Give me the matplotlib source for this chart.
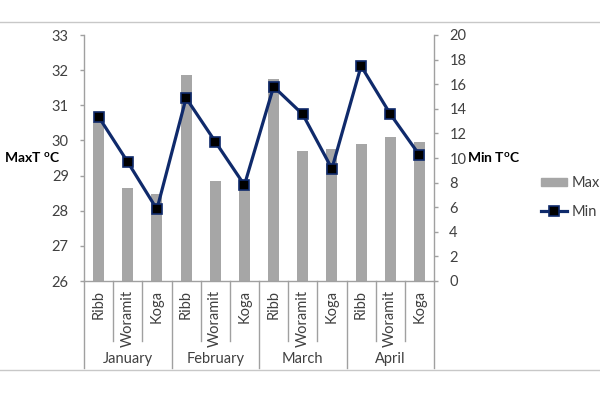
import matplotlib
matplotlib.use("Agg")
import matplotlib.pyplot as plt
from matplotlib.lines import Line2D

plt.rcParams['font.family'] = ['Lato', 'DejaVu Sans']
plt.rcParams['mathtext.fontset'] = 'custom'
plt.rcParams['mathtext.rm'] = 'Lato'
plt.rcParams['mathtext.bf'] = 'Lato:bold'

# data
months = ['January', 'February', 'March', 'April']
stations = ['Ribb', 'Woramit', 'Koga']
max_t = [30.52, 28.66, 28.47,
         31.85, 28.84, 28.60,
         31.74, 29.70, 29.77,
         29.89, 30.10, 29.95]
min_t = [13.36, 9.67, 5.83,
         14.88, 11.33, 7.80,
         15.80, 13.55, 9.13,
         17.48, 13.58, 10.24]

bar_col = '#A6A6A6'
line_col = '#0F2A6B'
axis_col = '#A0A0A0'
txt_col = '#404040'

n = len(max_t)
x = list(range(n))

fig = plt.figure(figsize=(6, 3.99), dpi=100)
ax = fig.add_axes([84 / 600, 1 - 281 / 399, 350 / 600, 246 / 399])
ax2 = ax.twinx()

ax.bar(x, max_t, width=0.38, color=bar_col, zorder=2)
ax.set_ylim(26, 33)
ax.set_xlim(-0.5, n - 0.5)
ax2.plot(x, min_t, color=line_col, lw=2.3, marker='s', ms=7,
         mfc='black', mec=line_col, mew=1.2, zorder=3)
ax2.set_ylim(0, 20)
ax2.set_yticks(range(0, 21, 2))

for a in (ax, ax2):
    a.set_xticks([])
    for s in a.spines.values():
        s.set_visible(False)
    a.tick_params(axis='y', colors=axis_col, labelcolor=txt_col,
                  labelsize=10.5, length=3, width=1, pad=8)
ax.spines['left'].set_visible(True)
ax.spines['bottom'].set_visible(True)
ax2.spines['right'].set_visible(True)
for s in (ax.spines['left'], ax.spines['bottom'], ax2.spines['right']):
    s.set_color(axis_col)
    s.set_linewidth(1)

# category axis: station labels, separators and month labels
tr = ax.get_xaxis_transform()
sub_y = -(341 - 281) / 246
mon_y = -(368 - 281) / 246
for i in range(n):
    ax.text(i, -(290 - 281) / 246, stations[i % 3], rotation=90,
            ha='center', va='top', fontsize=10.5, color=txt_col, transform=tr)
for i in range(n + 1):
    b = i - 0.5
    y0 = mon_y if i % 3 == 0 else sub_y
    ax.plot([b, b], [0, y0], color=axis_col, lw=1, transform=tr, clip_on=False)
for m, name in enumerate(months):
    ax.text(m * 3 + 1, -(359 - 281) / 246, name, ha='center', va='center',
            fontsize=10.5, color=txt_col, transform=tr)

# chart area borders
for yy in (21.7, 370):
    fig.add_artist(Line2D([0, 1], [1 - yy / 399, 1 - yy / 399],
                          color='#C8C8C8', lw=1))

fig.text(4 / 600, 1 - 158 / 399, r'MaxT $^{\mathbf{o}}$C', ha='left',
         va='center', fontsize=10, fontweight='bold', color='black')
fig.text(467 / 600, 1 - 158 / 399, r'Min T$^{\mathbf{o}}$C', ha='left',
         va='center', fontsize=10, fontweight='bold', color='black')

h_bar = plt.Rectangle((0, 0), 1, 1, color=bar_col)
h_line = Line2D([], [], color=line_col, lw=2.3, marker='s', ms=7,
                mfc='black', mec=line_col, mew=1.2)
fig.legend([h_bar, h_line], ['Max', 'Min'], loc='upper left',
           bbox_to_anchor=(541 / 600, 1 - 176 / 399), frameon=False,
           borderpad=0, borderaxespad=0,
           fontsize=10.5, handlelength=1.8, handletextpad=0.3,
           handleheight=0.5, labelspacing=1.0, labelcolor=txt_col)

fig.savefig('out.png', dpi=100)
